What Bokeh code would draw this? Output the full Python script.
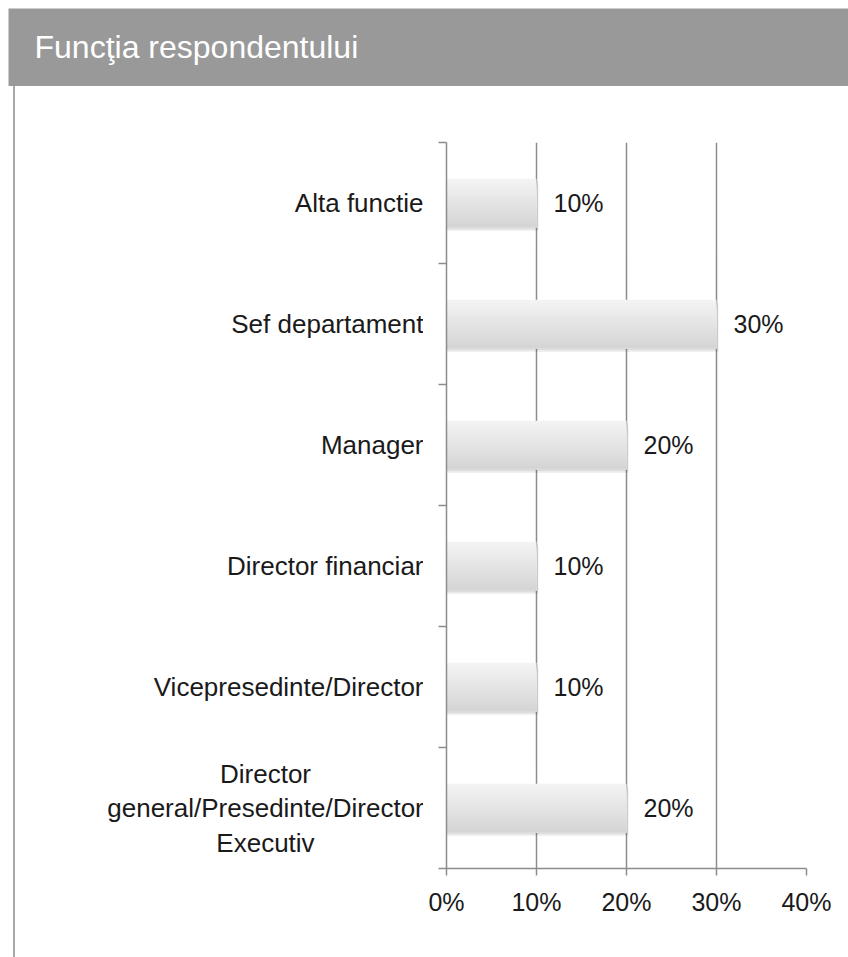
from bokeh.plotting import figure
from bokeh.layouts import column, row
from bokeh.models import (ColumnDataSource, Range1d, FixedTicker, NumeralTickFormatter, Label, Div)
from bokeh.transform import dodge
from bokeh.core.properties import value
from bokeh.embed import file_html
from bokeh.resources import INLINE

# ---- data (top of chart first) ----
TITLE = "Funcţia respondentului"
categories = ["Alta functie", "Sef departament", "Manager", "Director financiar",
              "Vicepresedinte/Director", "Director\ngeneral/Presedinte/Director\nExecutiv"]
shares = [0.10, 0.30, 0.20, 0.10, 0.10, 0.20]
x_ticks = [0.0, 0.1, 0.2, 0.3, 0.4]

FONT = "Liberation Sans"
n = len(categories)
# bottom category at y=0.5, top at n-0.5
ypos = [n - 0.5 - i for i in range(n)]
src = ColumnDataSource(dict(cat=categories, val=shares, y=ypos,
                            lab=[f"{round(v * 100)}%" for v in shares]))

TOP, BOTTOM = 56, 89

# ---- header ----
header = figure(width=840, height=78, x_range=Range1d(0, 1), y_range=Range1d(0, 1),
                toolbar_location=None, output_backend="svg", min_border=0,
                background_fill_color="#999999", border_fill_color="#999999",
                outline_line_color=None, x_axis_location=None, y_axis_location=None)
header.grid.visible = False
header.add_layout(Label(x=26, y=40, x_units="screen", y_units="screen", text=TITLE,
                        text_color="white", text_font_size="32px", text_font=FONT,
                        text_baseline="middle"))

# ---- thin left rule ----
rule = Div(text="", width=2, height=871, margin=(0, 0, 0, 5),
           styles={"background-color": "#a8a8a8"})

# ---- chart ----
p = figure(width=425, height=871, x_range=Range1d(0, 0.4), y_range=Range1d(0, n),
           toolbar_location=None, output_backend="svg",
           min_border_left=23, min_border_right=42, min_border_top=TOP, min_border_bottom=BOTTOM,
           outline_line_color=None, background_fill_color="white", border_fill_color="white")

# ---- category label panel (shares the y range) ----
lp = figure(width=408, height=871, x_range=Range1d(0, 1), y_range=p.y_range,
            toolbar_location=None, output_backend="svg",
            min_border_left=0, min_border_right=0, min_border_top=TOP, min_border_bottom=BOTTOM,
            outline_line_color=None, background_fill_color="white", border_fill_color="white",
            x_axis_location=None, y_axis_location=None)
lp.grid.visible = False
multi = ["\n" in c for c in categories]
lsrc = ColumnDataSource(dict(cat=categories, y=ypos, one=[1.0] * n,
                             align=["center" if m else "right" for m in multi],
                             xoff=[-158 if m else 0 for m in multi]))
lp.text(x="one", y="y", text="cat", source=lsrc, x_offset="xoff", text_align="align",
        text_baseline="middle", text_font=value(FONT), text_font_size="26px",
        text_color="#1a1a1a", text_line_height=1.15)

GRID = "#8c8c8c"
p.xgrid.ticker = FixedTicker(ticks=x_ticks)
p.xgrid.grid_line_color = GRID
p.xgrid.grid_line_width = 1.5
p.ygrid.visible = False

xa = p.xaxis[0]
xa.ticker = FixedTicker(ticks=x_ticks)
xa.formatter = NumeralTickFormatter(format="0%")
xa.axis_line_color = GRID
xa.axis_line_width = 1.5
xa.major_tick_line_color = GRID
xa.major_tick_line_width = 1.5
xa.major_tick_in = 0
xa.major_tick_out = 7
xa.minor_tick_line_color = None
xa.major_label_text_font = FONT
xa.major_label_text_font_size = "25px"
xa.major_label_text_color = "#1a1a1a"
xa.major_label_standoff = 12

# y axis: tick marks at category boundaries only
ya = p.yaxis[0]
ya.ticker = FixedTicker(ticks=list(range(n + 1)))
ya.axis_line_color = GRID
ya.axis_line_width = 1.5
ya.major_tick_line_color = GRID
ya.major_tick_line_width = 1.5
ya.major_tick_in = 0
ya.major_tick_out = 8
ya.minor_tick_line_color = None
ya.major_label_text_font_size = "0px"
ya.major_label_text_color = None
ya.major_label_standoff = 0

BAR_H = 0.4
# soft shadow
for dx, dy, a in [(0.0024, -0.032, 0.06), (0.0012, -0.016, 0.08)]:
    p.hbar(y=dodge("y", dy, range=p.y_range), left=0, right=dodge("val", dx, range=p.x_range),
           height=BAR_H, source=src, fill_color="#000000", fill_alpha=a, line_color=None)

# vertical gradient (light top -> darker bottom), drawn as nested bands without gaps
NB = 14
top_c, bot_c = (0xf3, 0xf3, 0xf3), (0xd5, 0xd5, 0xd5)
for k in range(NB):
    t = k / (NB - 1)
    c = tuple(round(top_c[i] + (bot_c[i] - top_c[i]) * t) for i in range(3))
    col = "#%02x%02x%02x" % c
    h = BAR_H * (NB - k) / NB
    off = -BAR_H / 2 + h / 2
    p.hbar(y=dodge("y", off, range=p.y_range), left=0, right="val",
           height=h, source=src, fill_color=col, line_color=None)

# value labels
p.text(x="val", y="y", text="lab", source=src, x_offset=17, text_baseline="middle",
       text_align="left", text_font=value(FONT), text_font_size="25px", text_color="#1a1a1a")

layout = column(header, row(rule, lp, p, spacing=0), spacing=0, margin=(8, 0, 0, 8))
open("out.html", "w").write(file_html(layout, INLINE))
